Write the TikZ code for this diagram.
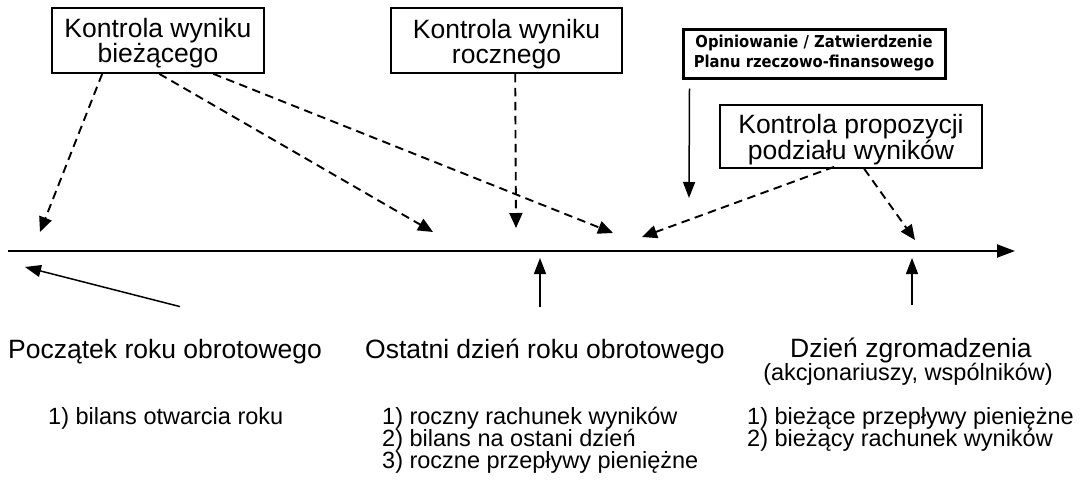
\documentclass[tikz,border=0pt]{standalone}
\usepackage{fontspec}
\setmainfont{Liberation Sans}
\newfontfamily\opfont[Extension=.ttf]{DejaVuSansCondensed-Bold}
\usetikzlibrary{arrows.meta,calc}

% taller first line, so that the two lines sit a little lower in their box
\newcommand\kstrut{\rule{0pt}{25.5pt}}

\tikzset{
  kbox/.style={draw, line width=1.6pt, inner sep=0pt, align=center,
    font=\fontsize{26.5}{25}\selectfont},
  opbox/.style={draw, line width=3pt, inner sep=0pt, align=center,
    font=\opfont\fontsize{16.4}{20}\selectfont},
  dasharrow/.style={line width=1.9pt, dash pattern=on 8.5pt off 5.5pt,
    -{Triangle[length=15pt,width=13pt]}},
  solidarrow/.style={line width=1.5pt, -{Triangle[length=16pt,width=12pt]}},
  axisline/.style={line width=2pt, -{Triangle[length=18pt,width=13pt]}},
  headlabel/.style={inner sep=0pt, font=\fontsize{26.5}{30}\selectfont},
  sublabel/.style={inner sep=0pt, font=\fontsize{23.5}{26}\selectfont},
  listline/.style={inner sep=0pt, anchor=base west, font=\fontsize{23.5}{22}\selectfont}
}

\begin{document}
\begin{tikzpicture}[x=1pt,y=-1pt]
  \fill[white] (0,0) rectangle (1081,479);
  \useasboundingbox (0,0) rectangle (1081,479);

  % control boxes
  \node[kbox, minimum width=212pt, minimum height=65pt] (bcur) at (158,40.5)
    {\kstrut Kontrola wyniku\\bieżącego};
  \node[kbox, minimum width=231pt, minimum height=65pt] (byear) at (506.5,40.5)
    {\kstrut Kontrola wyniku\\rocznego};
  \node[opbox, minimum width=262pt, minimum height=49pt] (bplan) at (814,53.5)
    {Opiniowanie / Zatwierdzenie\\Planu rzeczowo-finansowego};
  \node[kbox, minimum width=262pt, minimum height=63pt] (bdiv) at (851,136.5)
    {\kstrut Kontrola propozycji\\podziału wyników};

  % time axis
  \coordinate (axstart) at (8,251);
  \coordinate (axend) at (1015,251);
  \draw[axisline] (axstart) -- (axend);

  % targets on the axis
  \coordinate (t1) at (40,232);
  \coordinate (t2) at (433,232);
  \coordinate (t3) at (613,233);
  \coordinate (t4) at (516,228);
  \coordinate (t5) at (642,237);
  \coordinate (t6) at (915,240);
  \coordinate (t7) at (689,198);

  % dashed control arrows
  \draw[dasharrow] ($(bcur.south west)+(51,0)$) -- (t1);
  \draw[dasharrow] ($(bcur.south west)+(108,0)$) -- (t2);
  \draw[dasharrow] ($(bcur.south west)+(162,0)$) -- (t3);
  \draw[dasharrow] ($(byear.south west)+(125,0)$) -- (t4);
  \draw[dasharrow] ($(bdiv.south west)+(115,-2)$) -- (t5);
  \draw[dasharrow] ($(bdiv.south west)+(145,0)$) -- (t6);

  % plan approval arrow
  \draw[solidarrow] ($(bplan.south west)+(8,9)$) -- (t7);

  % moments on the axis
  \node[headlabel, anchor=base west] (start) at (8,358) {Początek roku obrotowego};
  \node[headlabel, anchor=base west] (last) at (365,358) {Ostatni dzień roku obrotowego};
  \node[headlabel, anchor=base] (meet) at (911,357) {Dzień zgromadzenia};
  \node[sublabel, anchor=base] (meetsub) at (908,380) {(akcjonariuszy, wspólników)};

  \coordinate (p1) at (25,267);
  \coordinate (p2) at (540,258);
  \coordinate (p3) at (912,258);
  \draw[solidarrow] ($(start.north west)+(172,-32)$) -- (p1);
  \draw[solidarrow] ($(last.north west)+(175,-31)$) -- (p2);
  \draw[solidarrow] ($(meet.north)+(1,-32)$) -- (p3);

  % statements for each moment
  \node[listline] (l1a) at (48,424) {1) bilans otwarcia roku};
  \node[listline] (l2a) at (382,424) {1) roczny rachunek wyników};
  \node[listline] (l2b) at (382,446) {2) bilans na ostani dzień};
  \node[listline] (l2c) at (382,468) {3) roczne przepływy pieniężne};
  \node[listline] (l3a) at (747,424) {1) bieżące przepływy pieniężne};
  \node[listline] (l3b) at (747,446) {2) bieżący rachunek wyników};
\end{tikzpicture}
\end{document}
